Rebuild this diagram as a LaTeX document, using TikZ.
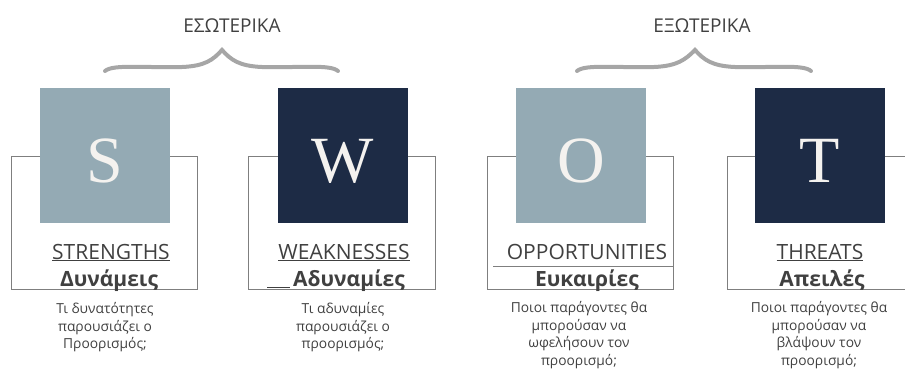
\documentclass[tikz,border=0pt]{standalone}
\usepackage{fontspec}
\setsansfont{Open Sans}
\newfontfamily\letterfont{Liberation Serif}
\definecolor{lightblue}{HTML}{94AAB4}
\definecolor{navy}{HTML}{1D2B45}
\definecolor{letterwhite}{HTML}{F4F2EF}
\definecolor{txtgray}{HTML}{404040}
\definecolor{framegray}{HTML}{7F7F7F}
\definecolor{bracegray}{HTML}{A6A6A6}
\begin{document}
\begin{tikzpicture}[x=1pt,y=-1pt,
  frame/.style={draw=framegray, line width=0.8pt},
  sq/.style={minimum width=130pt, minimum height=135pt, anchor=north west, inner sep=0pt},
  lightbox/.style={sq, fill=lightblue},
  darkbox/.style={sq, fill=navy},
  letter/.style={text=letterwhite, font=\letterfont\fontsize{66}{66}\selectfont, anchor=base, inner sep=0pt},
  eng/.style={text=txtgray, font=\sffamily\fontsize{21}{24}\selectfont, anchor=base, inner sep=0pt},
  grk/.style={text=txtgray, font=\sffamily\bfseries\fontsize{21}{24}\selectfont, anchor=base, inner sep=0pt},
  desc/.style={text=txtgray, font=\sffamily\fontsize{13.8}{17.8}\selectfont, align=center, anchor=north, inner sep=0pt},
  title/.style={text=txtgray, font=\sffamily\fontsize{19}{22}\selectfont, anchor=base, inner sep=0pt},
  brace/.style={draw=bracegray, line width=4pt, line cap=round}]
\useasboundingbox (0,0) rectangle (905,370);

% frames
\draw[frame] (11,156) rectangle (197,289);
\draw[frame] (248,156) rectangle (435,289);
\draw[frame] (487,156) rectangle (673,289);
\draw[frame] (905,156) -- (727,156) -- (727,289) -- (905,289);
\draw[frame] (493,266) -- (673,266);
\draw[txtgray, line width=1.3pt] (267,287.5) -- (290,287.5);

% squares
\node[lightbox] (bS) at (40,88) {};
\node[darkbox] (bW) at (278,88) {};
\node[lightbox] (bO) at (516,88) {};
\node[darkbox] (bT) at (755,88) {};

\node[letter] (lS) at (105,182) {S};
\node[letter] (lW) at (343,182) {W};
\node[letter] (lO) at (581,182) {O};
\node[letter] (lT) at (820,182) {T};

% braces
\draw[brace] (105,71) .. controls (113,64) and (145,68) .. (182,67)
  .. controls (205,66) and (213,60) .. (222,50)
  .. controls (231,60) and (239,66) .. (262,67)
  .. controls (299,68) and (330,64) .. (338,71);
\draw[brace] (577,71) .. controls (585,64) and (617,68) .. (654,67)
  .. controls (677,66) and (685,60) .. (695,50)
  .. controls (704,60) and (712,66) .. (735,67)
  .. controls (772,68) and (803,64) .. (811,71);

\node[title] (t1) at (232,32) {ΕΣΩΤΕΡΙΚΑ};
\node[title] (t2) at (702,32) {ΕΞΩΤΕΡΙΚΑ};

% labels
\node[eng] (eS) at (111,259) {\underline{STRENGTHS}};
\node[eng] (eW) at (344,259) {\underline{WEAKNESSES}};
\node[eng] (eO) at (587,259) {OPPORTUNITIES};
\node[eng] (eT) at (820,259) {\underline{THREATS}};

\node[grk] (gS) at (109,286) {Δυνάμεις};
\node[grk] (gW) at (349,286) {Αδυναμίες};
\node[grk] (gO) at (587,286) {Ευκαιρίες};
\node[grk] (gT) at (822,286) {Απειλές};

\node[desc] (dS) at (105,302) {Τι δυνατότητες\\παρουσιάζει ο\\Προορισμός;};
\node[desc] (dW) at (343,302) {Τι αδυναμίες\\παρουσιάζει ο\\προορισμός;};
\node[desc] (dO) at (579,301) {Ποιοι παράγοντες θα\\μπορούσαν να\\ωφελήσουν τον\\προορισμό;};
\node[desc] (dT) at (819,301) {Ποιοι παράγοντες θα\\μπορούσαν να\\βλάψουν τον\\προορισμό;};
\end{tikzpicture}
\end{document}
